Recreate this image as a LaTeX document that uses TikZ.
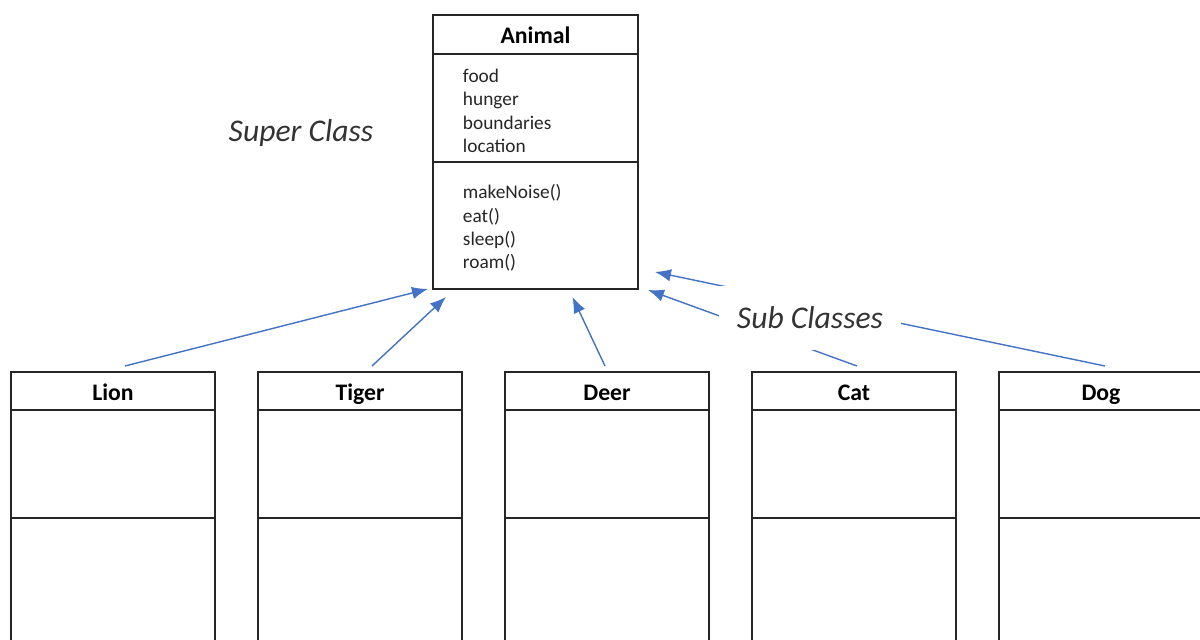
\documentclass[tikz,border=0pt]{standalone}
\usepackage{fontspec}
\setmainfont{Carlito}
\usetikzlibrary{positioning,calc,arrows.meta}
\definecolor{umlblue}{HTML}{4472C4}
\tikzset{
  part/.style={draw=black!85, line width=1.1pt, outer sep=0pt, inner sep=0pt, minimum width=4.08cm},
  head/.style={part, minimum height=0.76cm, text height=11pt, text depth=0.5pt, font=\fontsize{13.5}{16}\selectfont\bfseries},
  fields/.style={part, minimum height=2.16cm},
  methods/.style={part, minimum height=4cm},
  members/.style={align=left, text width=2.9cm, inner xsep=0.6cm, font=\fontsize{11}{13.3}\selectfont, text=black!85},
  inherits/.style={draw=umlblue, line width=0.8pt, -{Latex[length=3.2mm,width=2.5mm]}},
  note/.style={font=\fontsize{18}{21}\selectfont\itshape, text=black!80}
}
\begin{document}
\begin{tikzpicture}[x=0.02cm, y=-0.02cm]
  \clip (0,0) rectangle (1200,639);
  % super class
  \node (animal) [head, minimum width=4.1cm, minimum height=0.78cm, anchor=north west] at (433,15) {Animal};
  \node (animal-f) [fields, members, minimum width=4.1cm, below=0pt of animal] {\rule{0pt}{11pt}food\\hunger\\boundaries\\location};
  \node (animal-m) [part, members, minimum width=4.1cm, minimum height=2.54cm, below=0pt of animal-f] {\rule{0pt}{11pt}makeNoise()\\eat()\\sleep()\\roam()};
  \node (super) [note] at (301,133) {Super Class};
  % sub classes
  \node (lion) [head, anchor=north west] at (11,372) {Lion};
  \node (lion-f) [fields, below=0pt of lion] {};
  \node (lion-m) [methods, below=0pt of lion-f] {};
  \node (tiger) [head, anchor=north west] at (258,372) {Tiger};
  \node (tiger-f) [fields, below=0pt of tiger] {};
  \node (tiger-m) [methods, below=0pt of tiger-f] {};
  \node (deer) [head, anchor=north west] at (505,372) {Deer};
  \node (deer-f) [fields, below=0pt of deer] {};
  \node (deer-m) [methods, below=0pt of deer-f] {};
  \node (cat) [head, anchor=north west] at (752,372) {Cat};
  \node (cat-f) [fields, below=0pt of cat] {};
  \node (cat-m) [methods, below=0pt of cat-f] {};
  \node (dog) [head, anchor=north west] at (999,372) {Dog};
  \node (dog-f) [fields, below=0pt of dog] {};
  \node (dog-m) [methods, below=0pt of dog-f] {};
  % inheritance
  \draw [inherits] ($(lion.north)+(12,-6)$) -- ($(animal-m.south west)+(-5,0)$);
  \draw [inherits] ($(tiger.north)+(12,-6)$) -- ($(animal-m.south west)+(13,8)$);
  \draw [inherits] ($(deer.north)+(-2,-6)$) -- ($(animal-m.south)+(37,8)$);
  \draw [inherits] ($(cat.north)+(3,-6)$) -- ($(animal-m.south east)+(10,1)$);
  \draw [inherits] ($(dog.north)+(4,-6)$) -- ($(animal-m.south east)+(17,-17)$);
  \node (sub) [note, fill=white, inner xsep=0.36cm, inner ysep=0.42cm] at (810,318) {Sub Classes};
\end{tikzpicture}
\end{document}
